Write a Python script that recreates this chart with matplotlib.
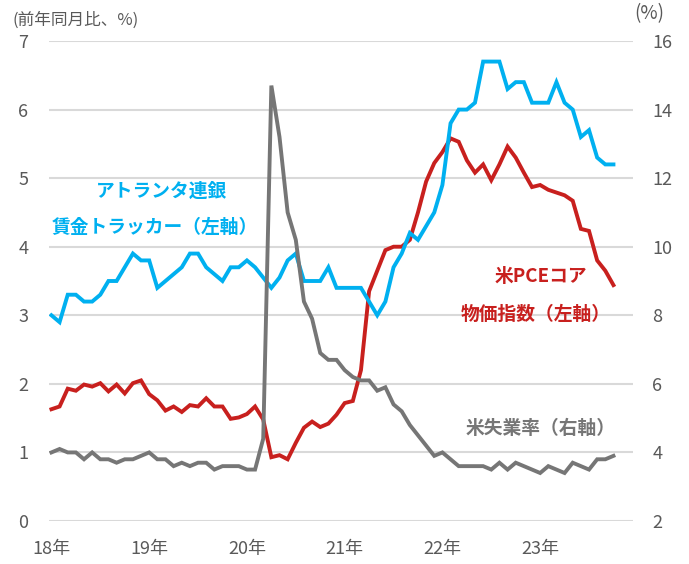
import matplotlib
matplotlib.use("Agg")
import matplotlib.pyplot as plt
import numpy as np

plt.rcParams['font.family'] = ['Noto Sans CJK JP', 'DejaVu Sans']

# monthly, Jan 2018 - Oct 2023
months = np.arange(70)

# Atlanta Fed wage growth tracker (left axis, % y/y)
wage = [3.0, 2.9, 3.3, 3.3, 3.2, 3.2, 3.3, 3.5, 3.5, 3.7, 3.9, 3.8,
        3.8, 3.4, 3.5, 3.6, 3.7, 3.9, 3.9, 3.7, 3.6, 3.5, 3.7, 3.7,
        3.8, 3.7, 3.55, 3.4, 3.55, 3.8, 3.9, 3.5, 3.5, 3.5, 3.7, 3.4,
        3.4, 3.4, 3.4, 3.2, 3.0, 3.2, 3.7, 3.9, 4.2, 4.1, 4.3, 4.5,
        4.9, 5.8, 6.0, 6.0, 6.1, 6.7, 6.7, 6.7, 6.3, 6.4, 6.4, 6.1,
        6.1, 6.1, 6.4, 6.1, 6.0, 5.6, 5.7, 5.3, 5.2, 5.2]

# US core PCE price index (left axis, % y/y)
core_pce = [1.63, 1.67, 1.93, 1.9, 1.99, 1.96, 2.01, 1.89, 1.99, 1.86, 2.01, 2.05,
            1.85, 1.76, 1.61, 1.67, 1.59, 1.69, 1.67, 1.79, 1.67, 1.67, 1.49, 1.51,
            1.56, 1.67, 1.48, 0.93, 0.96, 0.9, 1.14, 1.36, 1.45, 1.37, 1.42, 1.55,
            1.72, 1.75, 2.2, 3.35, 3.65, 3.95, 4.0, 4.0, 4.1, 4.5, 4.95, 5.22,
            5.38, 5.58, 5.53, 5.26, 5.08, 5.2, 4.97, 5.2, 5.46, 5.3, 5.08, 4.87,
            4.9, 4.83, 4.79, 4.75, 4.67, 4.26, 4.23, 3.8, 3.65, 3.44]

# US unemployment rate (right axis, %)
unemp = [4.0, 4.1, 4.0, 4.0, 3.8, 4.0, 3.8, 3.8, 3.7, 3.8, 3.8, 3.9,
         4.0, 3.8, 3.8, 3.6, 3.7, 3.6, 3.7, 3.7, 3.5, 3.6, 3.6, 3.6,
         3.5, 3.5, 4.4, 14.7, 13.2, 11.0, 10.2, 8.4, 7.9, 6.9, 6.7, 6.7,
         6.4, 6.2, 6.1, 6.1, 5.8, 5.9, 5.4, 5.2, 4.8, 4.5, 4.2, 3.9,
         4.0, 3.8, 3.6, 3.6, 3.6, 3.6, 3.5, 3.7, 3.5, 3.7, 3.6, 3.5,
         3.4, 3.6, 3.5, 3.4, 3.7, 3.6, 3.5, 3.8, 3.8, 3.9]

year_ticks = [0, 12, 24, 36, 48, 60]
year_labels = ['18年', '19年', '20年', '21年', '22年', '23年']

BLUE = '#00B0F0'
RED = '#C8201E'
GRAY = '#767676'
TXT = '#595959'

fig = plt.figure(figsize=(6.89, 5.64), dpi=100)
ax = fig.add_axes([49 / 689, 1 - 521 / 564, 584 / 689, 480 / 564])
ax2 = ax.twinx()

ax.plot(months, core_pce, color=RED, lw=2.8, solid_joinstyle='miter')
ax.plot(months, wage, color=BLUE, lw=2.8, solid_joinstyle='miter')
ax2.plot(months, unemp, color=GRAY, lw=2.8, solid_joinstyle='miter')

ax.set_xlim(-0.3, 71.4)
ax.set_ylim(0, 7)
ax2.set_ylim(2, 16)
ax.set_yticks(range(0, 8))
ax2.set_yticks(range(2, 17, 2))
ax.set_xticks(year_ticks)
ax.set_xticklabels(year_labels)

ax.yaxis.grid(True, color='#D9D9D9', lw=1.5)
ax.set_axisbelow(True)
for a in (ax, ax2):
    for s in a.spines.values():
        s.set_visible(False)
    a.tick_params(length=0, labelsize=13, labelcolor=TXT)
ax.tick_params(axis='y', pad=15)
ax2.tick_params(axis='y', pad=14)
ax.tick_params(axis='x', pad=14)

fig.text(12 / 689, 1 - 20 / 564, '(前年同月比、%)', fontsize=12, color=TXT,
         ha='left', va='center')
fig.text(649 / 689, 1 - 14 / 564, '(%)', fontsize=13.5, color=TXT,
         ha='center', va='center')

fig.text(162 / 689, 1 - 191 / 564, 'アトランタ連銀', fontsize=13.5, color=BLUE,
         fontweight='bold', ha='center', va='center')
fig.text(155 / 689, 1 - 227 / 564, '賃金トラッカー（左軸）', fontsize=13.5, color=BLUE,
         fontweight='bold', ha='center', va='center')
fig.text(541 / 689, 1 - 277 / 564, '米PCEコア', fontsize=13.5, color=RED,
         fontweight='bold', ha='center', va='center')
fig.text(536 / 689, 1 - 314 / 564, '物価指数（左軸）', fontsize=13.5, color=RED,
         fontweight='bold', ha='center', va='center')
fig.text(541 / 689, 1 - 429 / 564, '米失業率（右軸）', fontsize=13.5, color=GRAY,
         fontweight='bold', ha='center', va='center')

fig.savefig('out.png', dpi=100)
